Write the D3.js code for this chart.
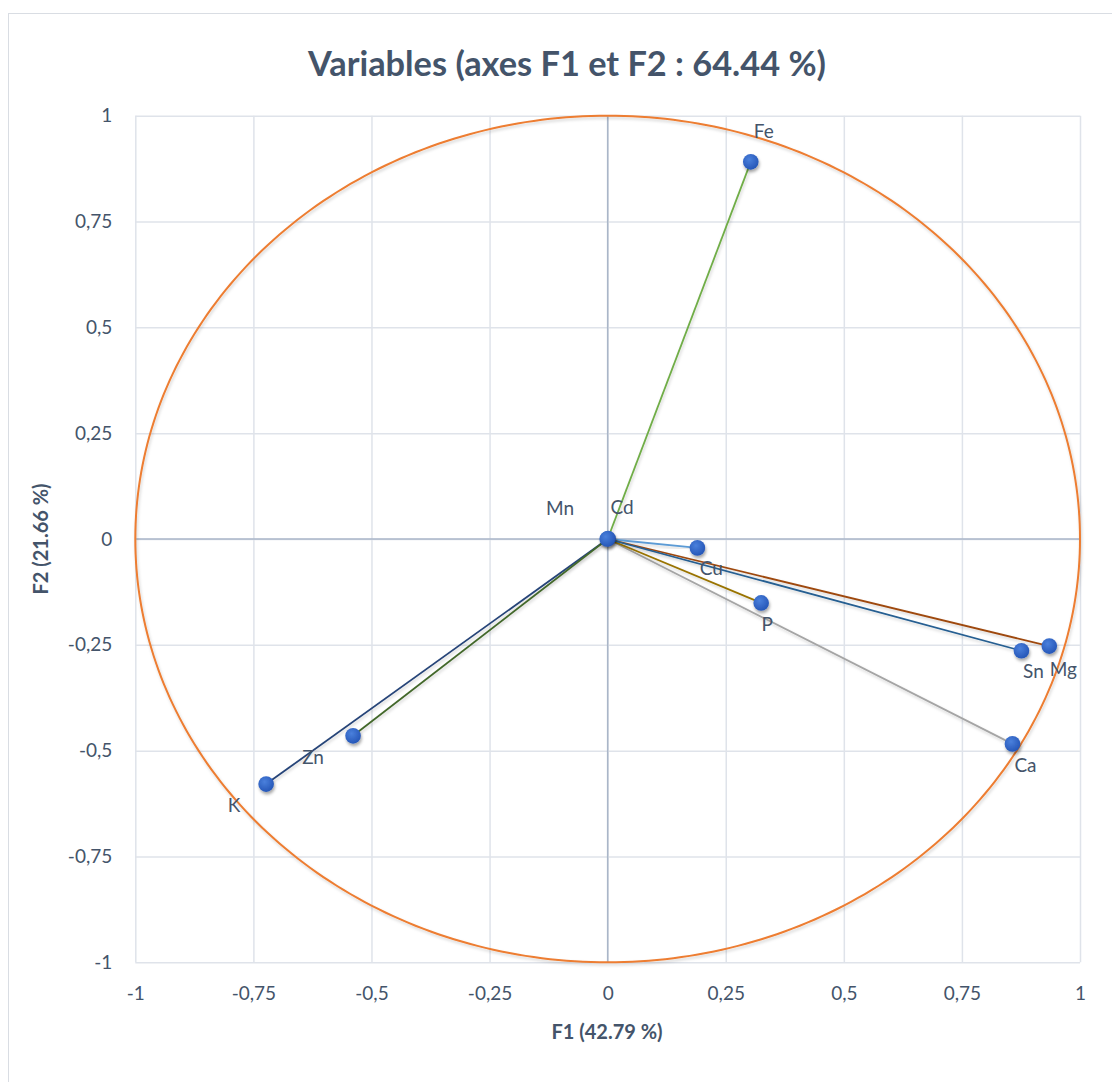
<!DOCTYPE html>
<html>
<head>
<meta charset="utf-8">
<script src="https://cdn.jsdelivr.net/npm/d3@7"></script>
<style>
  html, body { margin: 0; padding: 0; background: #ffffff; }
  svg { display: block; }
  text { font-family: Lato, "Open Sans", "Liberation Sans", sans-serif; fill: #44546a; }
</style>
</head>
<body>
<svg id="chart" width="1112" height="1082"></svg>
<script>
// Correlation circle: coordinates of each variable on the first two factors
const variables = ["Ca", "Cd", "Cu", "Fe", "K", "Mg", "Mn", "P", "Sn", "Zn"];
const f1Values = [0.857, 0.001, 0.190, 0.303, -0.723, 0.935, -0.001, 0.325, 0.876, -0.539];
const f2Values = [-0.484, 0.001, -0.021, 0.891, -0.579, -0.253, 0.000, -0.151, -0.264, -0.465];
const xTicks = [-1, -0.75, -0.5, -0.25, 0, 0.25, 0.5, 0.75, 1];
const yTicks = [-1, -0.75, -0.5, -0.25, 0, 0.25, 0.5, 0.75, 1];
const chartTitle = "Variables (axes F1 et F2 : 64.44 %)";
const xTitle = "F1 (42.79 %)";
const yTitle = "F2 (21.66 %)";

// Vector colours, one per variable
const vectorColors = {
  Ca: "#a5a5a5", Cd: "#ffc000", Cu: "#5b9bd5", Fe: "#70ad47", K: "#264478",
  Mg: "#9e480e", Mn: "#636363", P: "#997300", Sn: "#255e91", Zn: "#43682b"
};
// Label placement relative to each marker (pixels)
const labelOffset = {
  Ca: [13, 21], Cd: [14, -32], Cu: [14, 20], Fe: [13, -31], K: [-32, 20],
  Mg: [14, 22], Mn: [-47, -32], P: [6, 21], Sn: [12, 20], Zn: [-40, 21]
};

const points = variables.map((v, i) => ({ name: v, x: f1Values[i], y: f2Values[i] }));

const svg = d3.select("#chart");
const plot = { left: 135.3, right: 1080, top: 115.7, bottom: 962.3 };

const x = d3.scaleLinear().domain([-1, 1]).range([plot.left, plot.right]);
const y = d3.scaleLinear().domain([-1, 1]).range([plot.bottom, plot.top]);

const fmt = v => String(v).replace(".", ",");

// Filters for the soft shadows under markers and lines
const defs = svg.append("defs");
defs.append("filter").attr("id", "markerShadow")
  .attr("x", "-50%").attr("y", "-50%").attr("width", "200%").attr("height", "200%")
  .append("feDropShadow").attr("dx", 1).attr("dy", 2.5).attr("stdDeviation", 1.6)
  .attr("flood-color", "#000").attr("flood-opacity", 0.35);
defs.append("filter").attr("id", "lineShadow")
  .attr("x", "-10%").attr("y", "-10%").attr("width", "120%").attr("height", "120%")
  .append("feDropShadow").attr("dx", 1).attr("dy", 2).attr("stdDeviation", 1.5)
  .attr("flood-color", "#000").attr("flood-opacity", 0.18);
const grad = defs.append("radialGradient").attr("id", "markerFill")
  .attr("cx", "40%").attr("cy", "35%").attr("r", "65%");
grad.append("stop").attr("offset", "0%").attr("stop-color", "#4a80dc");
grad.append("stop").attr("offset", "100%").attr("stop-color", "#2657b8");

// Chart frame
svg.append("rect")
  .attr("x", 8.5).attr("y", 13.5).attr("width", 1120).attr("height", 1090)
  .attr("fill", "#ffffff").attr("stroke", "#d9dde3").attr("stroke-width", 1);

// Gridlines
const gridX = svg.append("g")
  .attr("transform", `translate(0,${plot.bottom})`)
  .call(d3.axisBottom(x).tickValues(xTicks).tickSize(-(plot.bottom - plot.top)).tickFormat(""));
const gridY = svg.append("g")
  .attr("transform", `translate(${plot.left},0)`)
  .call(d3.axisLeft(y).tickValues(yTicks).tickSize(-(plot.right - plot.left)).tickFormat(""));
[gridX, gridY].forEach(g => {
  g.select(".domain").remove();
  g.selectAll(".tick line").attr("stroke", "#dfe3ea").attr("stroke-width", 1.5);
});

// Zero axes
svg.append("line")
  .attr("x1", plot.left).attr("x2", plot.right).attr("y1", y(0)).attr("y2", y(0))
  .attr("stroke", "#aab6c8").attr("stroke-width", 1.5);
svg.append("line")
  .attr("x1", x(0)).attr("x2", x(0)).attr("y1", plot.top).attr("y2", plot.bottom)
  .attr("stroke", "#aab6c8").attr("stroke-width", 1.5);

// Tick labels
const xAxis = svg.append("g")
  .attr("transform", `translate(0,${plot.bottom})`)
  .call(d3.axisBottom(x).tickValues(xTicks).tickSize(0).tickPadding(24).tickFormat(fmt));
const yAxis = svg.append("g")
  .attr("transform", `translate(${plot.left},0)`)
  .call(d3.axisLeft(y).tickValues(yTicks).tickSize(0).tickPadding(23).tickFormat(fmt));
[xAxis, yAxis].forEach(g => {
  g.select(".domain").remove();
  g.selectAll("text").attr("font-size", 19).attr("fill", "#44546a")
    .attr("font-family", "Lato, 'Open Sans', sans-serif");
});
xAxis.selectAll("text").attr("dy", "0.72em");

// Unit correlation circle
const angles = d3.range(0, 361, 1).map(a => a * Math.PI / 180);
svg.append("path")
  .datum(angles)
  .attr("d", d3.line().x(a => x(Math.cos(a))).y(a => y(Math.sin(a))))
  .attr("fill", "none").attr("stroke", "#ed7d31").attr("stroke-width", 2)
  .attr("filter", "url(#lineShadow)");

// Variable vectors from the origin
svg.append("g").selectAll("line")
  .data(points)
  .join("line")
  .attr("x1", x(0)).attr("y1", y(0))
  .attr("x2", d => x(d.x)).attr("y2", d => y(d.y))
  .attr("stroke", d => vectorColors[d.name]).attr("stroke-width", 1.8)
  .attr("filter", "url(#lineShadow)");

// Markers
svg.append("g").selectAll("circle")
  .data(points)
  .join("circle")
  .attr("cx", d => x(d.x)).attr("cy", d => y(d.y)).attr("r", 7.8)
  .attr("fill", "url(#markerFill)")
  .attr("filter", "url(#markerShadow)");

// Variable labels
svg.append("g").selectAll("text")
  .data(points)
  .join("text")
  .attr("x", d => x(d.x) + labelOffset[d.name][0])
  .attr("y", d => y(d.y) + labelOffset[d.name][1])
  .attr("text-anchor", "middle").attr("dominant-baseline", "central")
  .attr("font-size", 19)
  .text(d => d.name);

// Titles
svg.append("text")
  .attr("x", 567).attr("y", 62)
  .attr("text-anchor", "middle").attr("dominant-baseline", "central")
  .attr("font-size", 34).attr("font-weight", "bold")
  .attr("textLength", 518).attr("lengthAdjust", "spacingAndGlyphs")
  .text(chartTitle);
svg.append("text")
  .attr("x", 607).attr("y", 1031)
  .attr("text-anchor", "middle").attr("dominant-baseline", "central")
  .attr("font-size", 20).attr("font-weight", "bold")
  .text(xTitle);
svg.append("text")
  .attr("transform", `translate(40,${y(0)}) rotate(-90)`)
  .attr("text-anchor", "middle").attr("dominant-baseline", "central")
  .attr("font-size", 20).attr("font-weight", "bold")
  .text(yTitle);
</script>
</body>
</html>
